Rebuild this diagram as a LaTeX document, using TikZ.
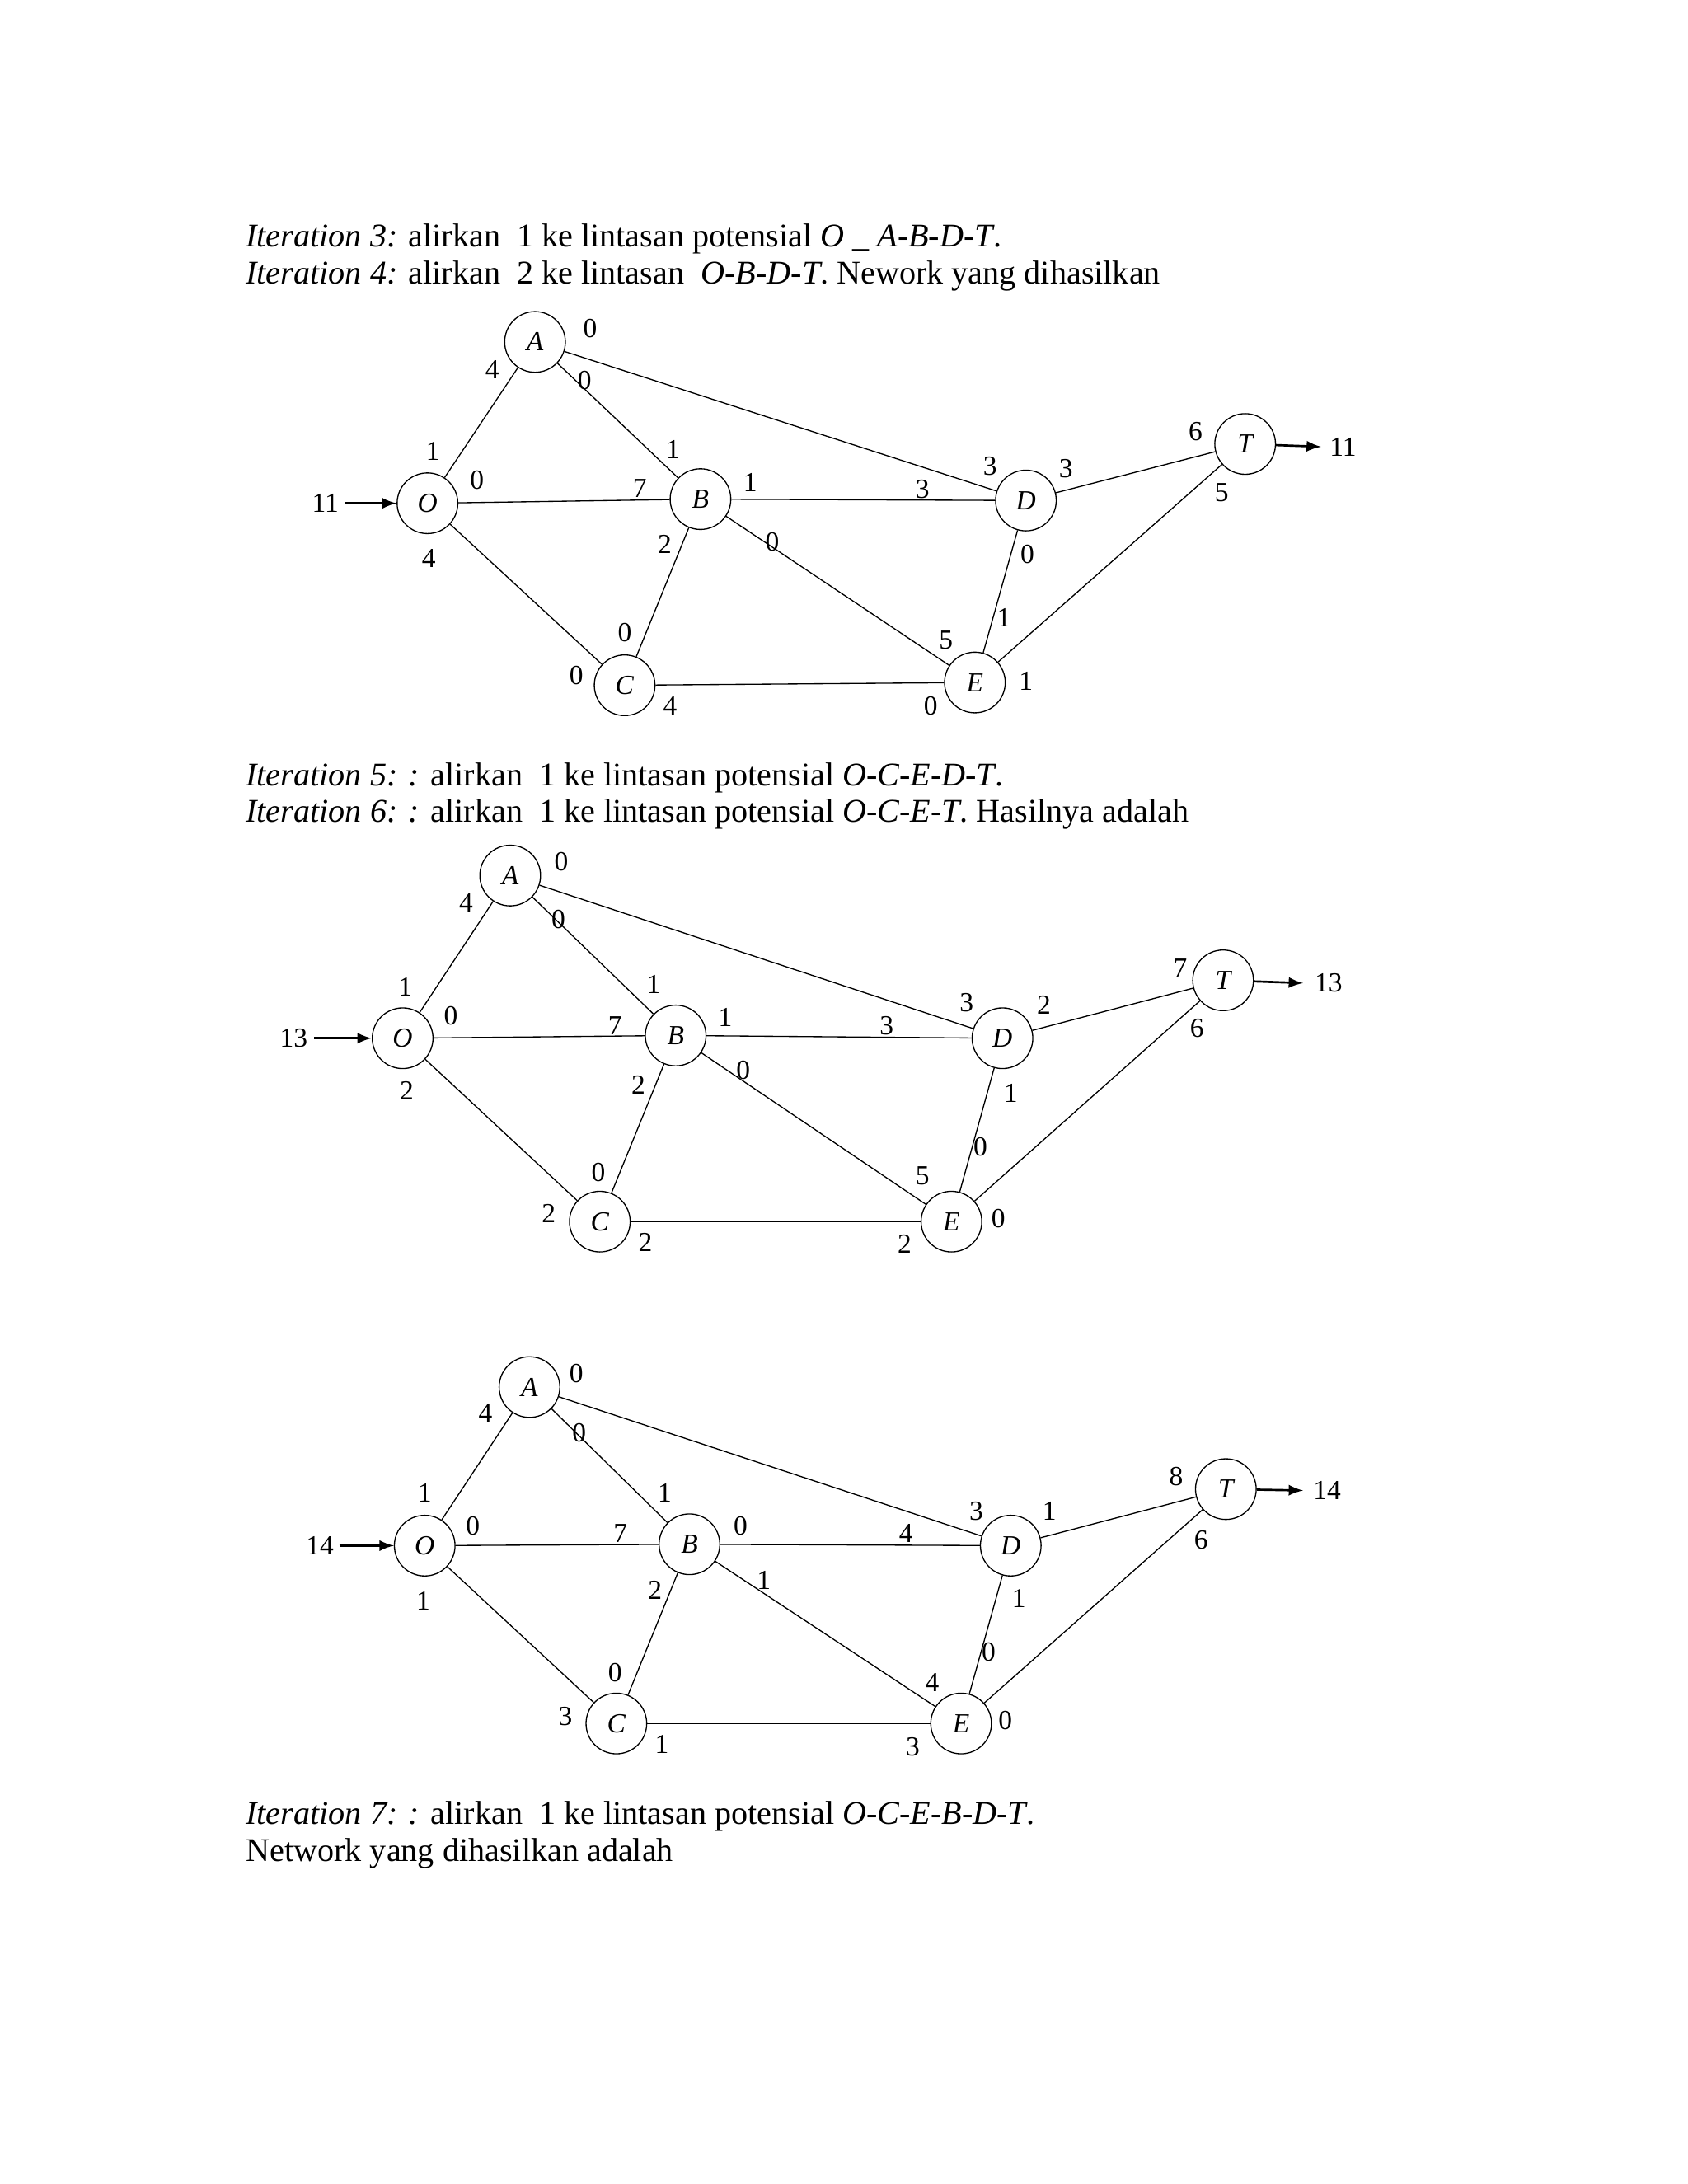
\documentclass[tikz,border=0pt]{standalone}
\usepackage{fontspec}
\setmainfont{Liberation Serif}
\begin{document}
\begin{tikzpicture}[x=0.5pt,y=-0.5pt,
  vert/.style={circle,draw,thin,minimum size=22pt,inner sep=0pt,font=\fontsize{10}{10}\selectfont\itshape},
  lab/.style={inner sep=0pt,font=\fontsize{10}{10}\selectfont},
  txt/.style={anchor=base west,inner sep=0pt,font=\fontsize{12}{14}\selectfont},
  edge/.style={thin},
  flow/.style={thick,-latex}]
\useasboundingbox (0,0) rectangle (1224,1584);
\node[txt] (t1) at (178,179) {\textit{Iteration 3:} alirkan\ \ 1 ke lintasan potensial \textit{O \_ A-B-D-T}.};
\node[txt] (t2) at (178,206) {\textit{Iteration 4:} alirkan\ \ 2 ke lintasan\ \ \textit{O-B-D-T}. Nework yang dihasilkan};
\node[txt] (t3) at (178,570) {\textit{Iteration 5: :} alirkan\ \ 1 ke lintasan potensial \textit{O-C-E-D-T}.};
\node[txt] (t4) at (178,596) {\textit{Iteration 6: :} alirkan\ \ 1 ke lintasan potensial \textit{O-C-E-T}. Hasilnya adalah};
\node[txt] (t5) at (178,1323) {\textit{Iteration 7: :} alirkan\ \ 1 ke lintasan potensial \textit{O-C-E-B-D-T}.};
\node[txt] (t6) at (178,1350) {Network yang dihasilkan adalah};
% graph 1
\foreach \n/\x/\y in {A/388/248,O/310/365,B/508/362,D/744/363,T/903/322,C/453/497,E/707/495}
  \node[vert] (a\n) at (\x,\y) {\n};
\foreach \p/\q in {O/A,O/B,O/C,A/B,A/D,B/D,B/C,B/E,C/E,D/E,D/T,E/T} \draw[edge] (a\p)--(a\q);
\node[lab] (ain) at (236,365) {11};
\coordinate (ainc) at (250,365);
\draw[flow] (ainc)--(aO);
\coordinate (aoutc) at (958,324);
\node[lab,anchor=west] (aout) at (964,324) {11};
\draw[flow] (aT)--(aoutc);
\foreach \x/\y/\t [count=\i] in {357/268/4,428/238/0,424/276/0,314/327/1,346/348/0,464/354/7,488/326/1,544/350/1,669/355/3,718/338/3,773/340/3,867/313/6,886/357/5,311/405/4,482/395/2,560/393/0,453/459/0,418/490/0,486/512/4,686/464/5,675/512/0,744/494/1,745/402/0,728/448/1}
  \node[lab] (al\i) at (\x,\y) {\t};
% graph 2
\foreach \n/\x/\y in {A/370/635,O/292/753,B/490/751,D/727/753,T/887/711,C/435/886,E/690/886}
  \node[vert] (b\n) at (\x,\y) {\n};
\foreach \p/\q in {O/A,O/B,O/C,A/B,A/D,B/D,B/C,B/E,C/E,D/E,D/T,E/T} \draw[edge] (b\p)--(b\q);
\node[lab] (bin) at (213,753) {13};
\coordinate (binc) at (228,753);
\draw[flow] (binc)--(bO);
\coordinate (boutc) at (945,713);
\node[lab,anchor=west] (bout) at (953,713) {13};
\draw[flow] (bT)--(boutc);
\foreach \x/\y/\t [count=\i] in {338/655/4,407/625/0,405/667/0,294/716/1,327/737/0,446/744/7,474/714/1,526/738/1,643/744/3,701/727/3,757/729/2,856/702/7,868/746/6,295/791/2,463/787/2,539/776/0,434/850/0,398/880/2,468/901/2,669/853/5,656/902/2,724/884/0,733/793/1,711/832/0}
  \node[lab] (bl\i) at (\x,\y) {\t};
% graph 3
\foreach \n/\x/\y in {A/384/1006,O/308/1121,B/500/1120,D/733/1121,T/889/1080,C/447/1250,E/697/1250}
  \node[vert] (c\n) at (\x,\y) {\n};
\foreach \p/\q in {O/A,O/B,O/C,A/B,A/D,B/D,B/C,B/E,C/E,D/E,D/T,E/T} \draw[edge] (c\p)--(c\q);
\node[lab] (cin) at (232,1121) {14};
\coordinate (cinc) at (246,1121);
\draw[flow] (cinc)--(cO);
\coordinate (coutc) at (945,1081);
\node[lab,anchor=west] (cout) at (952,1081) {14};
\draw[flow] (cT)--(coutc);
\foreach \x/\y/\t [count=\i] in {352/1025/4,418/996/0,420/1039/0,308/1083/1,343/1107/0,450/1112/7,482/1083/1,537/1107/0,657/1112/4,708/1096/3,761/1096/1,853/1071/8,871/1117/6,307/1161/1,475/1153/2,554/1146/1,446/1213/0,410/1245/3,480/1265/1,676/1220/4,662/1267/3,729/1248/0,739/1159/1,717/1198/0}
  \node[lab] (cl\i) at (\x,\y) {\t};
\end{tikzpicture}
\end{document}
